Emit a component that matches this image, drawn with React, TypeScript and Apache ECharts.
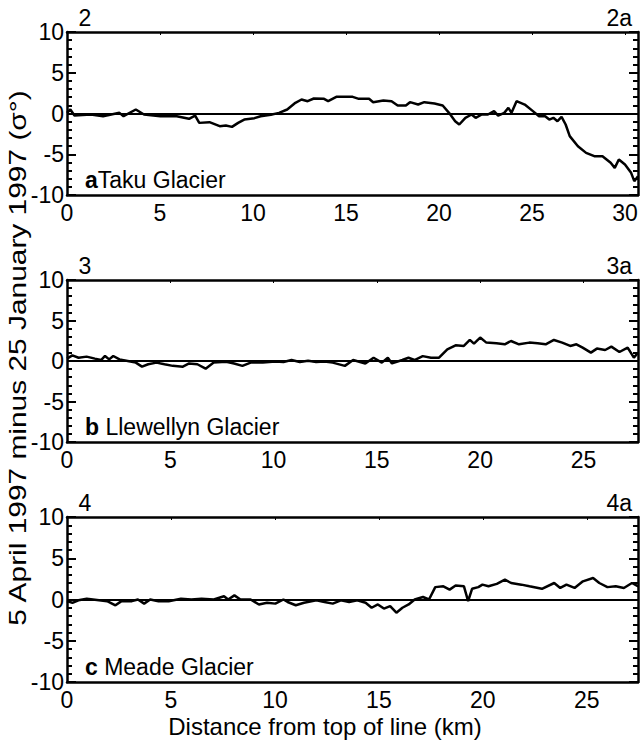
import React, { useEffect, useRef } from "react";
import * as echarts from "echarts";

// Panel a: Taku Glacier
const takuKm = [0, 0.18, 0.4, 1.28, 1.94, 2.82, 3.04, 3.7, 4.14, 5.02, 5.9, 6.56, 6.89, 7.11, 7.66, 8.21, 8.54, 8.87, 9.2, 9.53, 10.08, 10.41, 10.96, 11.4, 11.84, 12.28, 12.61, 12.94, 13.27, 13.82, 14.04, 14.48, 15.36, 15.69, 16.24, 16.46, 17.01, 17.45, 17.78, 18.22, 18.44, 18.88, 19.21, 19.76, 20.2, 20.54, 20.87, 21.09, 21.42, 21.75, 21.97, 22.3, 22.63, 22.96, 23.18, 23.51, 23.73, 23.9, 24.17, 24.61, 25.05, 25.38, 25.71, 25.93, 26.15, 26.37, 26.59, 26.81, 27.03, 27.47, 27.91, 28.35, 28.79, 29.01, 29.23, 29.45, 29.67, 30.0, 30.33, 30.5, 30.7];
const takuVal = [0.08, 0.49, -0.25, -0.12, -0.33, 0.08, -0.33, 0.49, -0.12, -0.33, -0.33, -0.65, -0.25, -1.15, -1.06, -1.55, -1.47, -1.64, -1.15, -0.74, -0.57, -0.33, -0.16, 0.08, 0.49, 1.31, 1.72, 1.51, 1.84, 1.8, 1.51, 2.04, 2.04, 1.8, 1.8, 1.39, 1.6, 1.51, 0.98, 0.98, 1.39, 1.1, 1.39, 1.23, 0.98, 0.08, -0.94, -1.35, -0.53, -0.12, -0.53, -0.12, -0.12, 0.29, -0.25, 0.08, 0.7, 0.08, 1.51, 1.1, 0.29, -0.33, -0.33, -0.74, -0.53, -0.94, -0.41, -1.35, -2.78, -4.01, -4.83, -5.24, -5.24, -5.64, -6.05, -6.67, -5.64, -6.26, -7.28, -8.3, -7.7];

// Panel b: Llewellyn Glacier
const llewKm = [0, 0.26, 0.56, 0.95, 1.35, 1.65, 1.84, 2.04, 2.24, 2.54, 2.94, 3.33, 3.63, 3.93, 4.33, 4.72, 5.12, 5.61, 5.91, 6.31, 6.71, 7.1, 7.7, 8.09, 8.49, 8.89, 9.48, 10.08, 10.48, 10.87, 11.27, 11.67, 12.06, 12.46, 12.86, 13.45, 13.85, 14.44, 14.84, 15.24, 15.53, 15.73, 16.23, 16.53, 16.82, 17.22, 17.62, 18.01, 18.41, 18.81, 19.21, 19.5, 19.7, 20.0, 20.3, 20.79, 21.19, 21.49, 21.88, 22.38, 22.78, 23.17, 23.57, 23.97, 24.36, 24.66, 24.96, 25.36, 25.65, 26.05, 26.35, 26.74, 27.14, 27.44, 27.64];
const llewVal = [0.3, 0.7, 0.4, 0.54, 0.29, 0.12, 0.62, 0.2, 0.62, 0.2, 0, -0.2, -0.7, -0.4, -0.2, -0.4, -0.6, -0.7, -0.3, -0.4, -0.95, -0.2, -0.1, -0.3, -0.6, -0.2, -0.2, -0.05, -0.12, 0.12, -0.12, 0.04, -0.12, -0.05, -0.2, -0.6, 0.12, -0.3, 0.4, -0.2, 0.4, -0.3, 0.12, 0.4, 0.12, 0.6, 0.41, 0.41, 1.44, 1.94, 1.86, 2.6, 2.14, 2.89, 2.27, 2.19, 2.06, 2.47, 2.06, 2.27, 2.19, 2.06, 2.6, 2.27, 1.86, 2.06, 1.65, 1.03, 1.53, 1.36, 1.77, 1.11, 1.65, 0.41, 1.03];

// Panel c: Meade Glacier
const meadeKm = [0, 0.26, 0.55, 0.95, 1.54, 1.93, 2.33, 2.62, 3.12, 3.41, 3.71, 4.0, 4.4, 4.89, 5.48, 5.98, 6.47, 7.06, 7.55, 7.75, 8.05, 8.34, 8.83, 9.23, 9.62, 10.02, 10.41, 10.61, 11.0, 11.4, 11.99, 12.38, 12.78, 13.17, 13.57, 13.96, 14.36, 14.65, 14.95, 15.24, 15.54, 15.84, 16.13, 16.43, 16.72, 17.12, 17.41, 17.71, 18.1, 18.4, 18.69, 19.09, 19.29, 19.48, 19.78, 19.98, 20.27, 20.67, 21.06, 21.36, 21.85, 22.24, 22.84, 23.43, 23.72, 24.02, 24.41, 24.81, 25.3, 25.6, 25.99, 26.39, 26.78, 27.17, 27.47];
const meadeVal = [-0.2, -0.4, -0.1, 0.1, -0.1, -0.2, -0.7, -0.2, -0.2, 0, -0.5, 0, -0.2, -0.2, 0.1, 0, 0.1, 0, 0.4, 0, 0.5, 0, 0, -0.6, -0.4, -0.5, 0, -0.3, -0.7, -0.4, -0.1, -0.3, -0.5, -0.1, -0.3, -0.1, -0.4, -1.0, -0.6, -1.1, -0.8, -1.6, -1.0, -0.6, 0, 0.3, 0, 1.5, 1.6, 1.2, 1.7, 1.6, -0.2, 1.3, 1.5, 1.8, 1.6, 1.9, 2.4, 2.0, 1.8, 1.6, 1.3, 2.0, 1.4, 1.8, 1.4, 2.2, 2.6, 2.0, 1.5, 1.6, 1.4, 2.0, 1.6];

const yTicks = [-10, -5, 0, 5, 10];
const xMaxes = [30.7, 27.64, 27.46];
const startLabels = ["2", "3", "4"];
const endLabels = ["2a", "3a", "4a"];
const panelLetters = ["a", "b ", "c "];
const panelNames = ["Taku Glacier", "Llewellyn Glacier", "Meade Glacier"];
const yTitle = "5 April 1997 minus 25 January 1997 (σ°)";
const xTitle = "Distance from top of line (km)";

const FONT = "'Liberation Sans', Arial, Helvetica, sans-serif";
const FS = 23;
const W = 643;
const H = 741;
const LEFT = 67;
const RIGHT = 5;
const tops = [32, 280, 517];
const heights = [163, 162, 165];

export default function App() {
  const ref = useRef<HTMLDivElement>(null);
  useEffect(() => {
    if (!ref.current) return;
    const chart = echarts.init(ref.current, null, { renderer: "svg" });
    const seriesData = [
      takuKm.map((k, i) => [k, takuVal[i]]),
      llewKm.map((k, i) => [k, llewVal[i]]),
      meadeKm.map((k, i) => [k, meadeVal[i]]),
    ];
    const grids: any[] = [];
    const xAxes: any[] = [];
    const yAxes: any[] = [];
    const series: any[] = [];
    const graphics: any[] = [];
    const plotW = W - LEFT - RIGHT;
    const frameLine = { show: true, onZero: false, lineStyle: { color: "#000", width: 2.5 } };
    for (let p = 0; p < 3; p++) {
      grids.push({ left: LEFT, right: RIGHT, top: tops[p], height: heights[p] });
      xAxes.push({
        type: "value", gridIndex: p, position: "bottom", min: 0, max: xMaxes[p], interval: 5,
        axisLine: frameLine,
        axisTick: { show: false },
        splitLine: { show: false },
        axisLabel: {
          color: "#000", fontSize: FS, fontFamily: FONT, margin: 9, lineHeight: 18,
          formatter: (v: number) => (Math.abs(v % 5) < 1e-6 ? String(v) : ""),
        },
      });
      xAxes.push({
        type: "value", gridIndex: p, position: "top", min: 0, max: xMaxes[p], interval: 5,
        axisLine: frameLine,
        axisTick: { show: true, inside: true, length: 3, lineStyle: { color: "#000", width: 1 } },
        splitLine: { show: false },
        axisLabel: { show: false },
      });
      yAxes.push({
        type: "value", gridIndex: p, position: "left", min: yTicks[0], max: yTicks[yTicks.length - 1], interval: 5,
        axisLine: frameLine,
        axisTick: { show: true, inside: true, length: 9, lineStyle: { color: "#000", width: 2 } },
        minorTick: { show: true, splitNumber: 5, length: 5, lineStyle: { color: "#000", width: 2 } },
        splitLine: { show: false },
        axisLabel: { color: "#000", fontSize: FS, fontFamily: FONT, margin: 3, lineHeight: 17 },
      });
      yAxes.push({
        type: "value", gridIndex: p, position: "right", min: -10, max: 10, interval: 5,
        axisLine: frameLine,
        axisTick: { show: true, inside: true, length: 9, lineStyle: { color: "#000", width: 2 } },
        minorTick: { show: true, splitNumber: 5, length: 5, lineStyle: { color: "#000", width: 2 } },
        splitLine: { show: false },
        axisLabel: { show: false },
      });
      series.push({
        type: "line", xAxisIndex: p * 2, yAxisIndex: p * 2, data: seriesData[p],
        showSymbol: false, symbol: "none",
        lineStyle: { color: "#000", width: 2.5 },
        markLine: {
          silent: true, symbol: ["none", "none"], label: { show: false },
          lineStyle: { color: "#000", width: 2, type: "solid" },
          data: [{ yAxis: 0 }],
        },
      });
      graphics.push({
        type: "text", x: LEFT + 18, y: tops[p] - 14,
        style: { text: startLabels[p], font: `${FS}px ${FONT}`, fill: "#000", align: "center", verticalAlign: "middle" },
      });
      graphics.push({
        type: "text", x: LEFT + plotW - 6, y: tops[p] - 14,
        style: { text: endLabels[p], font: `${FS}px ${FONT}`, fill: "#000", align: "right", verticalAlign: "middle" },
      });
      graphics.push({
        type: "text", x: LEFT + 18, y: tops[p] + heights[p] - 15,
        style: {
          text: `{b|${panelLetters[p]}}${panelNames[p]}`,
          fontSize: FS, fontFamily: FONT, fill: "#000", verticalAlign: "middle",
          rich: { b: { fontWeight: "bold", fontSize: FS, fontFamily: FONT, fill: "#000" } },
        },
      });
    }
    graphics.push({
      type: "text", x: 18, y: 358, rotation: Math.PI / 2, scaleX: 1.3,
      style: { text: yTitle, font: `${FS}px ${FONT}`, fill: "#000", align: "center", verticalAlign: "middle" },
    });
    graphics.push({
      type: "text", x: 325, y: 726,
      style: { text: xTitle, font: `24px ${FONT}`, fill: "#000", align: "center", verticalAlign: "middle" },
    });
    chart.setOption({
      animation: false,
      backgroundColor: "#fff",
      grid: grids,
      xAxis: xAxes,
      yAxis: yAxes,
      series,
      graphic: graphics,
    });
    return () => chart.dispose();
  }, []);
  return <div ref={ref} style={{ width: W, height: H, position: "absolute", left: 0, top: 0 }} />;
}
